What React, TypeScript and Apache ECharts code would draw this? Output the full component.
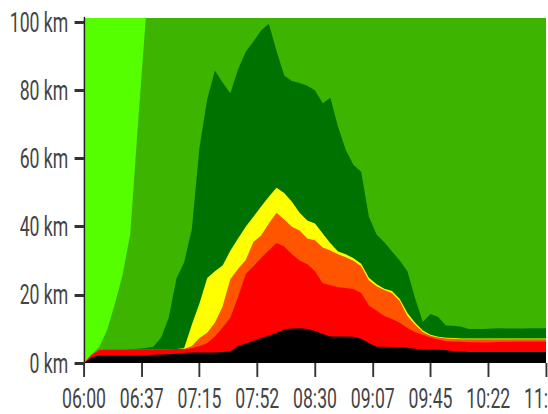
import React, { useEffect, useRef } from "react";
import * as echarts from "echarts";

// Time of each sample (every 5 minutes)
const times = [
  "06:00", "06:05", "06:10", "06:15", "06:20", "06:25", "06:30", "06:35", "06:40", "06:45", "06:50", "06:55",
  "07:00", "07:05", "07:10", "07:15", "07:20", "07:25", "07:30", "07:35", "07:40", "07:45", "07:50", "07:55",
  "08:00", "08:05", "08:10", "08:15", "08:20", "08:25", "08:30", "08:35", "08:40", "08:45", "08:50", "08:55",
  "09:00", "09:05", "09:10", "09:15", "09:20", "09:25", "09:30", "09:35", "09:40", "09:45", "09:50", "09:55",
  "10:00", "10:05", "10:10", "10:15", "10:20", "10:25", "10:30", "10:35", "10:40", "10:45", "10:50", "10:55",
  "11:00",
];

// Cumulative km (top edge of each coloured band)
const stopped = [
  0, 1.7, 2.2, 2.2, 2.2, 2.2, 2.2, 2.2, 2.3, 2.4, 2.5, 2.6,
  2.7, 2.9, 3.1, 3.1, 3.1, 3.1, 3.2, 3.4, 5.0, 5.7, 6.5, 7.3,
  8.1, 8.8, 9.8, 10.1, 10.2, 10.0, 9.4, 8.5, 7.8, 7.8, 7.8, 7.7,
  7.1, 5.9, 4.8, 4.8, 4.7, 4.6, 4.5, 4.2, 3.9, 3.9, 3.9, 3.8,
  3.4, 3.4, 3.2, 3.2, 3.2, 3.2, 3.2, 3.2, 3.2, 3.2, 3.2, 3.2,
  3.2,
];
const veryHeavy = [
  0, 2.4, 3.9, 3.9, 3.9, 3.9, 4.0, 4.0, 4.0, 4.0, 4.0, 4.0,
  4.1, 4.1, 4.3, 5.0, 5.8, 7.8, 10.4, 13.3, 19.3, 26.1, 28.4, 30.8,
  33.1, 35.2, 34.2, 31.9, 30.1, 29.0, 26.9, 23.4, 22.8, 22.2, 22.0, 21.7,
  20.5, 16.9, 15.3, 13.8, 12.9, 11.8, 10.3, 9.0, 8.3, 7.5, 6.9, 6.4,
  6.3, 6.2, 6.1, 6.1, 6.0, 6.1, 6.2, 6.2, 6.3, 6.3, 6.3, 6.3,
  6.3,
];
const heavy = [
  0, 2.4, 3.9, 3.9, 3.9, 3.9, 4.0, 4.0, 4.0, 4.0, 4.0, 4.0,
  4.1, 4.1, 5.0, 7.3, 8.9, 11.8, 16.6, 24.6, 27.6, 30.2, 35.5, 37.4,
  40.9, 44.1, 42.1, 40.0, 38.9, 36.5, 36.0, 33.9, 33.0, 31.9, 31.0, 30.0,
  28.4, 24.3, 22.5, 21.4, 20.5, 18.2, 13.8, 11.2, 9.1, 8.0, 7.5, 7.2,
  7.1, 7.0, 7.0, 7.0, 7.0, 7.0, 7.0, 7.0, 7.0, 7.0, 7.0, 7.0,
  7.0,
];
const slow = [
  0, 2.4, 3.9, 3.9, 3.9, 3.9, 4.0, 4.0, 4.0, 4.0, 4.0, 4.0,
  4.1, 4.3, 11.2, 17.5, 24.9, 26.9, 28.6, 32.9, 36.5, 40.0, 42.9, 45.9,
  48.8, 51.4, 49.9, 47.3, 44.1, 41.8, 40.9, 38.0, 35.1, 32.7, 31.9, 30.7,
  29.1, 25.0, 23.1, 21.8, 21.1, 18.8, 14.7, 11.8, 9.5, 8.3, 7.7, 7.4,
  7.3, 7.2, 7.2, 7.2, 7.2, 7.2, 7.2, 7.2, 7.2, 7.2, 7.2, 7.2,
  7.2,
];
const dense = [
  0, 2.4, 3.9, 4.0, 4.0, 4.0, 4.0, 4.2, 4.4, 4.8, 7.4, 13.2,
  24.8, 29.5, 39.2, 63.3, 77.4, 85.8, 82.3, 79.1, 86.1, 91.3, 94.3, 97.5,
  99.5, 91.6, 84.3, 82.7, 82.1, 81.3, 80.0, 76.2, 77.8, 69.2, 62.5, 58.1,
  56.1, 42.9, 37.7, 35.4, 32.7, 30.1, 26.9, 19.0, 12.0, 14.4, 13.5, 11.0,
  10.9, 10.6, 10.0, 10.0, 10.0, 10.1, 10.2, 10.1, 10.1, 10.1, 10.2, 10.2,
  10.2,
];
const fluid = [
  0, 2.6, 4.7, 9.7, 17.3, 25.8, 37.8, 69.8, 100.5, 130, 130, 130,
  130, 130, 130, 130, 130, 130, 130, 130, 130, 130, 130, 130,
  130, 130, 130, 130, 130, 130, 130, 130, 130, 130, 130, 130,
  130, 130, 130, 130, 130, 130, 130, 130, 130, 130, 130, 130,
  130, 130, 130, 130, 130, 130, 130, 130, 130, 130, 130, 130,
  130,
];

const yTicks = [0, 20, 40, 60, 80, 100];
const Y_MAX = 101.2;
const X_MAX = 300; // minutes after 06:00
const X_STEP = 37.5;

const layers = [
  { name: "fluid", data: fluid, color: "#3db500" },
  { name: "dense", data: dense, color: "#007200" },
  { name: "slow", data: slow, color: "#ffff00" },
  { name: "heavy", data: heavy, color: "#ff5500" },
  { name: "veryHeavy", data: veryHeavy, color: "#ff0000" },
  { name: "stopped", data: stopped, color: "#000000" },
];

const VIEW_W = 548;
const VIEW_H = 414;
const W = 870; // drawn wider, then squeezed horizontally
const SX = VIEW_W / W;

const toMin = (s: string) => {
  const [h, m] = s.split(":").map(Number);
  return h * 60 + m - 360;
};
const fmtTime = (v: number) => {
  const tot = 360 + v;
  const h = Math.floor(tot / 60);
  const m = Math.floor(tot % 60);
  return String(h).padStart(2, "0") + ":" + String(m).padStart(2, "0");
};

export default function App() {
  const ref = useRef<HTMLDivElement>(null);
  useEffect(() => {
    if (!ref.current) return;
    const chart = echarts.init(ref.current, undefined, { renderer: "svg" });
    const font = "Roboto, 'Noto Sans', sans-serif";
    chart.setOption({
      animation: false,
      grid: {
        left: 84 / SX,
        right: 2 / SX,
        top: 18,
        bottom: 51,
        show: true,
        backgroundColor: "#55ff00",
        borderWidth: 0,
        containLabel: false,
        outerBoundsMode: "none",
      },
      xAxis: {
        type: "value",
        min: 0,
        max: X_MAX,
        interval: X_STEP,
        offset: 3,
        axisLine: { show: false },
        axisTick: { show: true, length: 14, lineStyle: { color: "#333", width: 3 } },
        axisLabel: {
          formatter: (v: number) => fmtTime(v),
          color: "#444",
          fontSize: 28,
          fontFamily: font,
          margin: 18,
        },
        splitLine: { show: false },
      },
      yAxis: {
        type: "value",
        min: 0,
        max: Y_MAX,
        interval: 20,
        axisLine: { show: true, lineStyle: { color: "#222", width: 2.4 } },
        axisTick: {
          show: true,
          length: 15,
          customValues: yTicks,
          lineStyle: { color: "#333", width: 3 },
        },
        axisLabel: {
          customValues: yTicks,
          formatter: (v: number) => v + " km",
          color: "#444",
          fontSize: 28,
          fontFamily: font,
          margin: 25,
        },
        splitLine: { show: false },
      },
      series: layers.map((l) => ({
        name: l.name,
        type: "line",
        data: times.map((t, i) => [toMin(t), l.data[i]]),
        showSymbol: false,
        symbol: "none",
        silent: true,
        clip: true,
        lineStyle: { width: 0, opacity: 0 },
        areaStyle: { color: l.color, opacity: 1 },
      })),
    });
    return () => chart.dispose();
  }, []);
  return (
    <div
      style={{
        position: "fixed",
        left: 0,
        top: 0,
        width: VIEW_W,
        height: VIEW_H,
        overflow: "hidden",
        background: "#fff",
      }}
    >
      <div
        ref={ref}
        style={{ width: W, height: VIEW_H, transform: `scaleX(${SX})`, transformOrigin: "0 0" }}
      />
    </div>
  );
}
